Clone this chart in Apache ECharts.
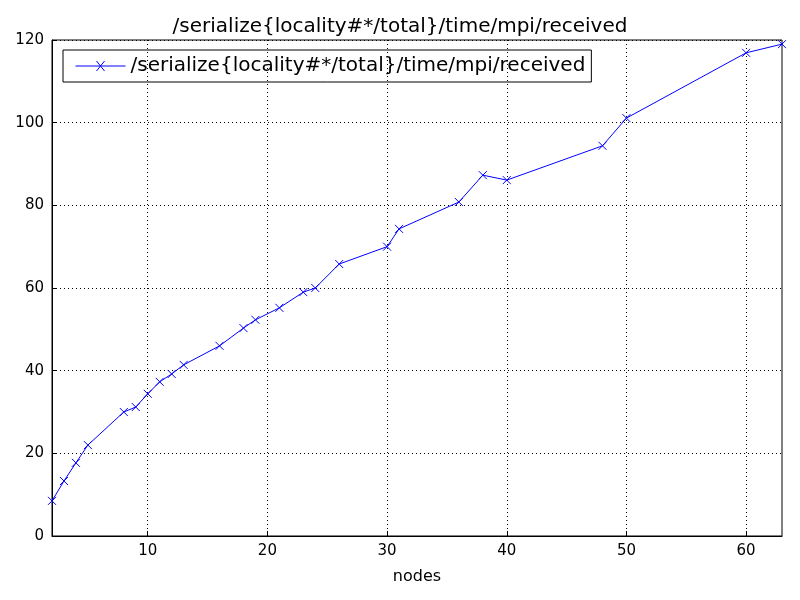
<!DOCTYPE html>
<html><head><meta charset="utf-8">
<script src="https://cdn.jsdelivr.net/npm/echarts@6/dist/echarts.min.js"></script>
<style>html,body{margin:0;padding:0;background:#fff}#c{width:800px;height:600px}</style>
</head><body><div id="c"></div>
<script>
const nodes = [2,3,4,5,8,9,10,11,12,13,16,18,19,21,23,24,26,30,31,36,38,40,48,50,60,63];
const values = [8.5,13.3,17.7,22,30,31.2,34.4,37.3,39.2,41.4,46,50.3,52.3,55.2,59,60,65.8,70,74.3,80.8,87.3,86.1,94.4,101.1,116.9,119];
const xTicks = [10,20,30,40,50,60];
const seriesName = '/serialize{locality#*/total}/time/mpi/received';
const chart = echarts.init(document.getElementById('c'));
const xPath = 'path://M0,0L10,10M10,0L0,10';
const legendPath = 'path://M0,5L50,5M21,0L29,10M29,0L21,10';
chart.setOption({
  animation:false,
  textStyle:{fontFamily:'DejaVu Sans'},
  title:{text:seriesName,left:'center',top:12,textStyle:{fontSize:20,fontWeight:'normal',color:'#000'}},
  legend:{left:63,top:50,itemWidth:50,itemHeight:10,itemGap:10,padding:[6,6,6,10],borderColor:'#000',borderWidth:1,borderRadius:0,
    textStyle:{fontSize:20,color:'#000'},data:[{name:seriesName,icon:legendPath,itemStyle:{color:'none',borderColor:'#0000ff',borderWidth:1}}]},
  grid:{left:52,right:18,top:40,bottom:64},
  xAxis:{type:'value',min:2,max:63,name:'nodes',nameLocation:'middle',nameGap:33,nameTextStyle:{fontSize:16,color:'#000'},
    axisLine:{show:true,lineStyle:{color:'#000'}},
    axisTick:{show:true,inside:true,length:5,customValues:xTicks,lineStyle:{color:'#000'}},
    axisLabel:{customValues:xTicks,fontSize:15,color:'#000',margin:8},
    splitLine:{show:true,lineStyle:{color:'#000',type:[1,3]}}},
  yAxis:{type:'value',min:0,max:120,interval:20,
    axisLine:{show:true,lineStyle:{color:'#000'}},
    axisTick:{show:true,inside:true,length:5,lineStyle:{color:'#000'}},
    axisLabel:{fontSize:15,color:'#000',margin:8},
    splitLine:{show:true,lineStyle:{color:'#000',type:[1,3]}}},
  series:[{name:seriesName,type:'line',data:nodes.map((n,i)=>[n,values[i]]),
    symbol:xPath,symbolSize:8,showAllSymbol:true,
    lineStyle:{color:'#0000ff',width:1},itemStyle:{color:'#0000ff',borderColor:'#0000ff',borderWidth:1}}],
  graphic:[{type:'rect',shape:{x:52,y:40,width:730,height:496},style:{fill:null,stroke:'#000',lineWidth:1},silent:true,z:-1}]
});
</script></body></html>
